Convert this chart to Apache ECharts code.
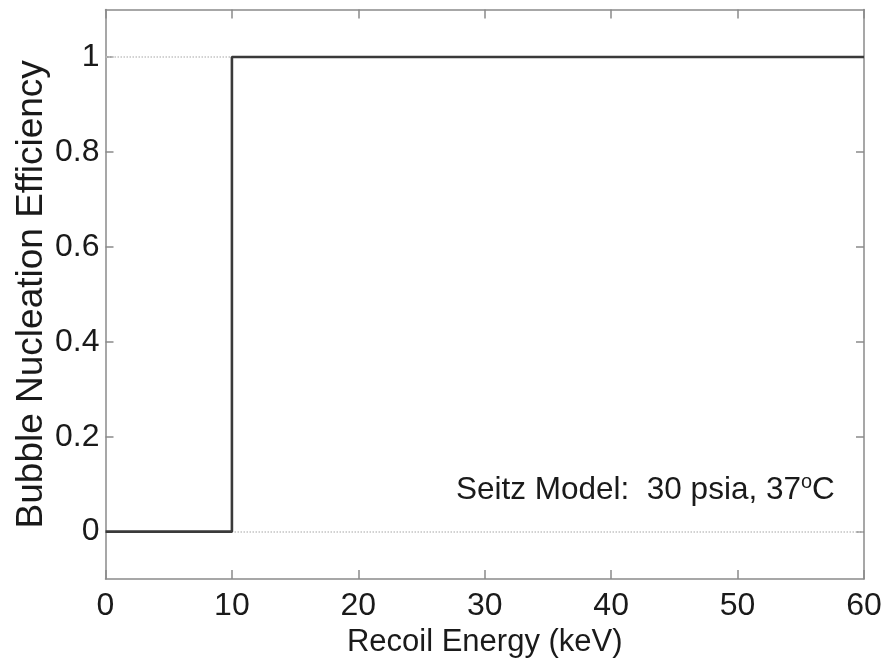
<!DOCTYPE html>
<html>
<head>
<meta charset="utf-8">
<script src="https://cdn.jsdelivr.net/npm/echarts@6/dist/echarts.min.js"></script>
<style>
  html, body { margin: 0; padding: 0; background: #fff; }
  #chart { width: 886px; height: 663px; }
</style>
</head>
<body>
<div id="chart"></div>
<script>
// step curve: efficiency jumps from 0 to 1 at 10 keV
var energy = [0, 10, 10, 60];
var efficiency = [0, 0, 1, 1];
var yTicks = [0, 0.2, 0.4, 0.6, 0.8, 1];
var refLevels = [0, 1];   // dotted reference lines

var font = 'Liberation Sans, Arial, Helvetica, sans-serif';
var axisGray = '#8a8a8a';
var textColor = '#1a1a1a';

var points = energy.map(function (e, i) { return [e, efficiency[i]]; });

function frameX(pos, withLabels) {
  return {
    type: 'value', min: 0, max: 60, interval: 10, position: pos,
    axisLine: { show: true, onZero: false, lineStyle: { color: axisGray, width: 1.5 } },
    axisTick: { inside: true, length: 9, lineStyle: { color: axisGray, width: 1.5 } },
    axisLabel: withLabels
      ? { fontFamily: font, fontSize: 32, color: textColor, margin: 11 }
      : { show: false },
    splitLine: { show: false }
  };
}

function frameY(pos, withLabels) {
  return {
    type: 'value', min: -0.1, max: 1.1, position: pos,
    axisLine: { show: true, onZero: false, lineStyle: { color: axisGray, width: 1.5 } },
    axisTick: { inside: true, length: 8, customValues: yTicks,
      lineStyle: { color: axisGray, width: 1.5 } },
    axisLabel: withLabels
      ? { fontFamily: font, fontSize: 32, color: textColor, margin: 6, customValues: yTicks }
      : { show: false },
    splitLine: { show: false }
  };
}

var xBottom = frameX('bottom', true);
xBottom.name = 'Recoil Energy (keV)';
xBottom.nameLocation = 'middle';
xBottom.nameGap = 36;
xBottom.nameTextStyle = { fontFamily: font, fontSize: 31, color: textColor };

var yLeft = frameY('left', true);
yLeft.name = 'Bubble Nucleation Efficiency';
yLeft.nameLocation = 'middle';
yLeft.nameGap = 55;
yLeft.nameMoveOverlap = false;
yLeft.nameTextStyle = { fontFamily: font, fontSize: 37, color: textColor };

var chart = echarts.init(document.getElementById('chart'));
chart.setOption({
  animation: false,
  backgroundColor: '#fff',
  grid: { left: 105.5, right: 22, top: 9.5, bottom: 83.5 },
  xAxis: [xBottom, frameX('top', false)],
  yAxis: [yLeft, frameY('right', false)],
  series: [
    {
      type: 'line',
      data: points,
      showSymbol: false,
      lineStyle: { color: '#3a3a3a', width: 2.6 },
      z: 3,
      markLine: {
        silent: true,
        symbol: 'none',
        label: { show: false },
        lineStyle: { color: '#c4c4c4', type: 'dotted', width: 1.5 },
        data: refLevels.map(function (v) { return { yAxis: v }; }),
        z: 1
      }
    }
  ],
  graphic: [
    {
      type: 'text',
      left: 456,
      top: 472,
      style: {
        text: 'Seitz Model:  30 psia, 37{sup|o}C',
        font: '31.5px ' + font,
        fill: textColor,
        rich: {
          sup: { fontFamily: font, fontSize: 20, fill: textColor, padding: [0, 0, 16, 0] }
        }
      }
    }
  ]
});
</script>
</body>
</html>
